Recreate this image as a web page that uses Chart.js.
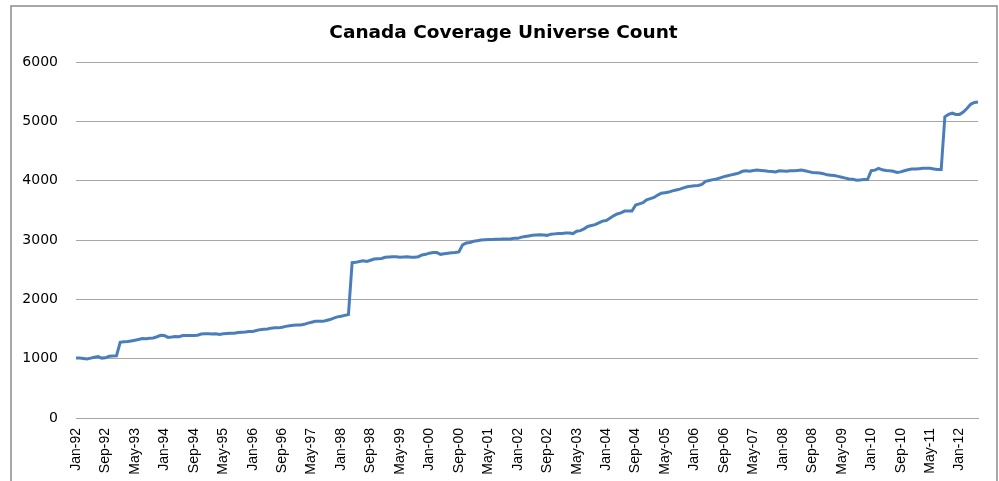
<!DOCTYPE html>
<html>
<head>
<meta charset="utf-8">
<script src="https://cdn.jsdelivr.net/npm/chart.js@4"></script>
<style>
   html, body { margin: 0; padding: 0; background: #fff; }
   #wrap { width: 999px; height: 481px; position: relative; }
</style>
</head>
<body>
<div id="wrap"><canvas id="myChart" width="999" height="481"></canvas></div>
<script>
"use strict";

const chartTitle = "Canada Coverage Universe Count";

// months Jan-92 .. Jun-12, a label every 8 months
const monthNames = ["Jan", "Feb", "Mar", "Apr", "May", "Jun", "Jul", "Aug", "Sep", "Oct", "Nov", "Dec"];
const startYear = 1992;
const monthCount = 246;
const labelEvery = 8;

// coverage count, one value per month
const coverage = [
   1010, 1010, 1005, 995, 1010, 1025, 1035, 1010, 1015, 1040, 1045, 1050,
   1275, 1285, 1290, 1300, 1310, 1325, 1340, 1335, 1345, 1350, 1370, 1395,
   1390, 1360, 1365, 1375, 1370, 1390, 1390, 1390, 1390, 1395, 1415, 1420,
   1420, 1415, 1420, 1410, 1420, 1425, 1430, 1430, 1440, 1445, 1450, 1460,
   1460, 1475, 1490, 1495, 1500, 1515, 1520, 1520, 1530, 1545, 1555, 1565,
   1570, 1570, 1580, 1600, 1615, 1630, 1630, 1630, 1645, 1660, 1685, 1705,
   1715, 1730, 1745, 2620, 2625, 2640, 2650, 2640, 2660, 2680, 2685, 2690,
   2710, 2715, 2720, 2720, 2710, 2715, 2720, 2710, 2710, 2720, 2750, 2760,
   2780, 2790, 2790, 2760, 2770, 2780, 2785, 2790, 2800, 2920, 2950, 2960,
   2980, 2990, 3000, 3005, 3010, 3010, 3015, 3015, 3020, 3020, 3020, 3030,
   3030, 3050, 3060, 3070, 3080, 3085, 3090, 3085, 3080, 3100, 3105, 3110,
   3110, 3120, 3120, 3110, 3150, 3160, 3190, 3230, 3245, 3260, 3290, 3320,
   3330, 3370, 3410, 3440, 3460, 3490, 3490, 3490, 3590, 3610, 3630, 3680,
   3700, 3720, 3760, 3790, 3800, 3810, 3830, 3845, 3860, 3880, 3900, 3910,
   3915, 3920, 3940, 3990, 4005, 4020, 4030, 4050, 4070, 4085, 4100, 4115,
   4130, 4160, 4170, 4160, 4175, 4180, 4175, 4170, 4160, 4155, 4150, 4170,
   4165, 4160, 4170, 4170, 4175, 4180, 4170, 4155, 4140, 4135, 4130, 4120,
   4100, 4095, 4090, 4075, 4060, 4045, 4030, 4025, 4010, 4015, 4020, 4020,
   4170, 4180, 4210, 4185, 4175, 4170, 4160, 4140, 4150, 4170, 4185, 4200,
   4200, 4205, 4210, 4210, 4210, 4200, 4190, 4190, 5080, 5120, 5140, 5120,
   5120, 5160, 5220, 5290, 5320, 5330,
];

const yTicks = [0, 1000, 2000, 3000, 4000, 5000, 6000];

const months = [];
for (let i = 0; i < monthCount; i++) {
   const yy = String((startYear + Math.floor(i / 12)) % 100).padStart(2, "0");
   months.push(monthNames[i % 12] + "-" + yy);
}

const gridGray = "#a6a6a6";

// outer frame like the Excel chart border
const framePlugin = {
   id: "frame",
   afterDraw(chart) {
      const c = chart.ctx;
      c.save();
      c.strokeStyle = "#8a8a8a";
      c.lineWidth = 1.5;
      c.strokeRect(11, 6, 986, 480);
      c.restore();
   },
};

const ctx = document.getElementById("myChart").getContext("2d");
const myChart = new Chart(ctx, {
   type: "line",
   data: {
      labels: months,
      datasets: [
         {
            label: "Coverage",
            data: coverage,
            borderColor: "#4a7ebb",
            backgroundColor: "#4a7ebb",
            borderWidth: 3,
            pointRadius: 0,
            tension: 0,
         },
      ],
   },
   options: {
      responsive: false,
      animation: false,
      layout: {
         padding: { left: 29, right: 21, top: 0, bottom: 0 },
      },
      plugins: {
         legend: { display: false },
         tooltip: { enabled: false },
         title: {
            display: true,
            text: chartTitle,
            color: "#000",
            font: { family: "DejaVu Sans", size: 18.5, weight: "bold" },
            padding: { top: 22, bottom: 18 },
         },
      },
      scales: {
         x: {
            grid: { display: false, drawTicks: false },
            border: { display: true, color: gridGray, width: 1 },
            ticks: {
               autoSkip: false,
               minRotation: 90,
               maxRotation: 90,
               padding: 10,
               color: "#000",
               font: { family: "Liberation Sans", size: 14 },
               callback: function (value, index) {
                  return index % labelEvery === 0 ? months[index] : "";
               },
            },
            afterFit(scale) {
               scale.height = 63;
               scale.paddingLeft = 0;
               scale.paddingRight = 0;
            },
         },
         y: {
            min: yTicks[0],
            max: yTicks[yTicks.length - 1],
            afterBuildTicks(scale) {
               scale.ticks = yTicks.map((v) => ({ value: v }));
            },
            grid: { color: gridGray, lineWidth: 1, drawTicks: false },
            border: { display: false },
            ticks: {
               padding: 18,
               color: "#000",
               font: { family: "DejaVu Sans", size: 14 },
               callback: (v) => String(v),
            },
            afterFit(scale) {
               scale.width = 47;
               // let the labels run past the narrow axis box
               scale._computeLabelArea = () => undefined;
            },
         },
      },
   },
   plugins: [framePlugin],
});
</script>
</body>
</html>
